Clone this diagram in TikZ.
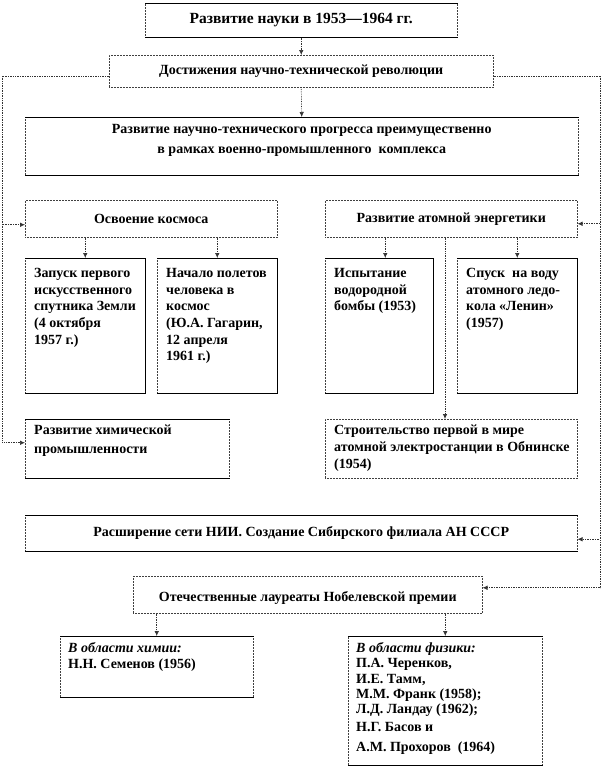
\documentclass[tikz,border=0pt]{standalone}
\usepackage{fontspec}
\setmainfont{Liberation Serif}
\usetikzlibrary{arrows.meta}
\begin{document}
\begin{tikzpicture}[x=1pt,y=-1pt,
  box/.style={draw=black!75, densely dotted, line width=0.5pt, inner sep=0pt, anchor=north west,
              font=\bfseries\fontsize{14}{16.7}\selectfont, align=center},
  txt/.style={inner sep=0pt, anchor=north west, align=left,
              font=\bfseries\fontsize{14}{16.7}\selectfont},
  edge/.style={draw=black, solid, line width=0.5pt},
  conn/.style={draw=black!80, densely dotted, line width=0.7pt},
  arr/.style={conn, -{Latex[length=5pt,width=4.5pt]}}]
\useasboundingbox (0,0) rectangle (602,771);

% boxes
\node[box, minimum width=312pt, minimum height=34pt, font=\bfseries\fontsize{15.5}{18}\selectfont] (title) at (145,3) {Развитие науки в 1953—1964 гг.};
\node[box, minimum width=384pt, minimum height=32pt] (dost) at (109,55) {Достижения научно-технической революции};
\node[box, minimum width=553pt, minimum height=58pt] (ntp) at (25,117) {};
\node[inner sep=0pt, anchor=north, align=center, font=\bfseries\fontsize{14}{20}\selectfont] (ntpt) at ([yshift=-7pt]ntp.north) {Развитие научно-технического прогресса преимущественно\\в рамках военно-промышленного\ \ комплекса};
\node[box, minimum width=252pt, minimum height=37pt] (osv) at (25,200) {Освоение космоса};
\node[box, minimum width=252pt, minimum height=37pt] (atom) at (325,200) {Развитие атомной энергетики};

\node[box, minimum width=120pt, minimum height=135pt] (zap) at (25,258) {};
\node[box, minimum width=120pt, minimum height=135pt] (nach) at (157,258) {};
\node[box, minimum width=108pt, minimum height=135pt] (isp) at (325,258) {};
\node[box, minimum width=120pt, minimum height=135pt] (spusk) at (457,258) {};

\node[txt] (zapt) at ([shift={(9,10)}]zap.north west) {Запуск первого\\искусственного\\спутника Земли\\(4 октября\\1957 г.)};
\node[txt] (nacht) at ([shift={(9,10)}]nach.north west) {Начало полетов\\человека в\\космос\\(Ю.А. Гагарин,\\12 апреля\\1961 г.)};
\node[txt] (ispt) at ([shift={(9,10)}]isp.north west) {Испытание\\водородной\\бомбы (1953)};
\node[txt] (spuskt) at ([shift={(9,10)}]spusk.north west) {Спуск\ \ на воду\\атомного ледо-\\кола «Ленин»\\(1957)};

\node[box, minimum width=204pt, minimum height=59pt] (chem) at (25,419) {};
\node[txt, font=\bfseries\fontsize{14}{19}\selectfont] (chemt) at ([shift={(9,6)}]chem.north west) {Развитие химической\\промышленности};
\node[box, minimum width=252pt, minimum height=59pt] (str) at (325,419) {};
\node[txt] (strt) at ([shift={(9,6)}]str.north west) {Строительство первой в мире\\атомной электростанции в Обнинске\\(1954)};

\node[box, minimum width=552pt, minimum height=36pt] (rasch) at (25,515) {Расширение сети НИИ. Создание Сибирского филиала АН СССР};
\node[box, minimum width=349pt, minimum height=37pt] (nob) at (133,576) {};
\node[inner sep=0pt, font=\bfseries\fontsize{14}{16.7}\selectfont] (nobt) at ([yshift=-3pt]nob.center) {Отечественные лауреаты Нобелевской премии};

\node[box, minimum width=193pt, minimum height=61pt] (himb) at (60,636) {};
\node[txt] (himt) at ([shift={(8,6)}]himb.north west) {\textit{В области химии:}\\Н.Н. Семенов (1956)};
\node[box, minimum width=194pt, minimum height=129pt] (fiz) at (348,636) {};
\node[txt, font=\bfseries\fontsize{14}{15.4}\selectfont] (fizt) at ([shift={(8,6)}]fiz.north west) {\textit{В области физики:}\\П.А. Черенков,\\И.Е. Тамм,\\М.М. Франк (1958);\\Л.Д. Ландау (1962);\\[2pt]Н.Г. Басов и\\[5pt]А.М. Прохоров\ \ (1964)};

% solid edges
\foreach \n in {title,ntp,rasch,zap,nach,isp,spusk,chem,himb,fiz}
  \draw[edge] (\n.north west) -- (\n.north east) (\n.south west) -- (\n.south east);
\foreach \n in {zap,nach,isp,spusk}
  \draw[edge] (\n.north east) -- (\n.south east);

% connectors
\draw[arr] (title.south) -- (dost.north);
\draw[arr] (dost.south) -- (ntp.north);

\coordinate (L1) at (2,76);
\coordinate (R1) at (600,76);
\draw[conn] (dost.west |- L1) -- (L1);
\draw[arr] (L1) |- ([yshift=-6pt]osv.west);
\draw[arr] (L1) |- ([yshift=6pt]chem.west);
\draw[conn] (dost.east |- R1) -- (R1);
\draw[arr] (R1) |- ([yshift=-5pt]atom.east);
\draw[arr] (R1) |- ([yshift=-6pt]rasch.east);
\draw[arr] (R1) |- ([yshift=7pt]nob.east);

\draw[arr] (osv.south -| zap.north) -- (zap.north);
\draw[arr] (osv.south -| nach.north) -- (nach.north);
\draw[arr] ([xshift=6pt]atom.south -| isp.north) -- ([xshift=6pt]isp.north);
\draw[arr] (atom.south -| spusk.north) -- (spusk.north);
\coordinate (M) at (445,0);
\draw[arr] (atom.south -| M) -- (str.north -| M);

\draw[arr] (nob.south -| himb.north) -- (himb.north);
\draw[arr] (nob.south -| fiz.north) -- (fiz.north);
\end{tikzpicture}
\end{document}
